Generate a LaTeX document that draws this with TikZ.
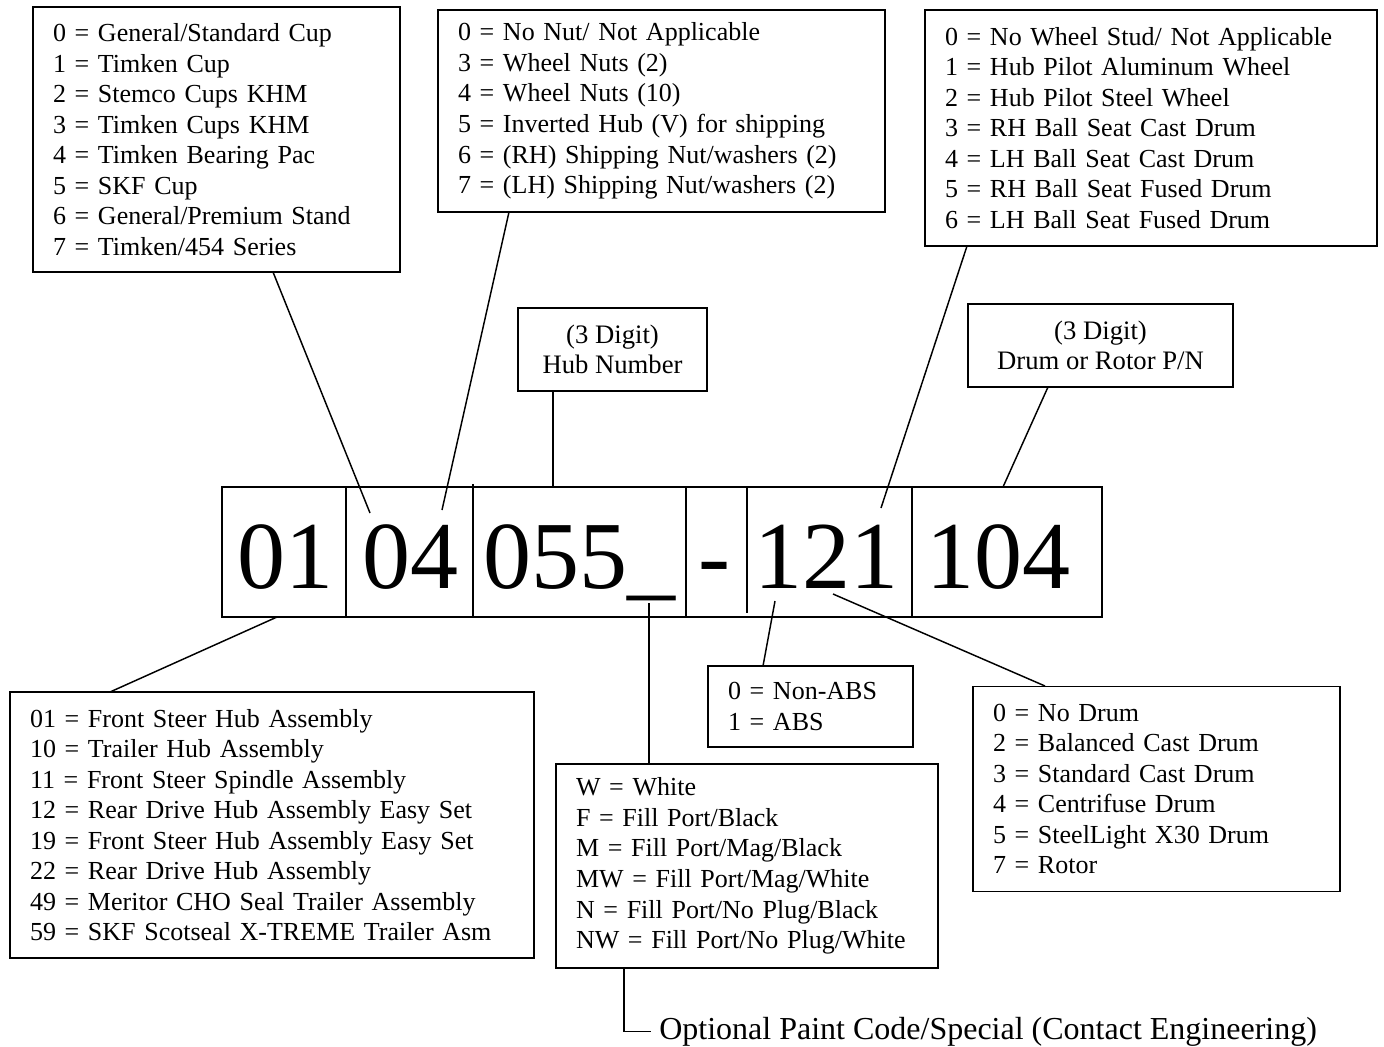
\documentclass[tikz,border=0pt]{standalone}
\usepackage{fontspec}
\setmainfont{Liberation Serif}
\usepackage{tikz}
\usetikzlibrary{positioning}

\tikzset{
  listbox/.style={draw, line width=1.3pt, align=left, inner xsep=15pt, inner ysep=0pt, font=\fontsize{19.5}{22.9}\selectfont},
  labelbox/.style={draw, line width=1.3pt, align=center, inner sep=0pt, font=\fontsize{20}{22.5}\selectfont},
  digits/.style={inner sep=0pt, font=\fontsize{72}{80}\selectfont},
  link/.style={line width=1.1pt},
  divider/.style={line width=0.8pt}
}

\begin{document}
\begin{tikzpicture}[x=0.75pt, y=-0.75pt]
  \useasboundingbox (0,0) rectangle (1384,1046);

  % option boxes above the part number
  \node[listbox, text width=245.25pt, minimum height=198.75pt] (cups) at (216.5,139.5) {0 = General/Standard Cup\\ 1 = Timken Cup\\ 2 = Stemco Cups KHM\\ 3 = Timken Cups KHM\\ 4 = Timken Bearing Pac\\ 5 = SKF Cup\\ 6 = General/Premium Stand\\ 7 = Timken/454 Series};
  \node[listbox, text width=305.25pt, minimum height=151.5pt] (nuts) at (661.5,111) {0 = No Nut/ Not Applicable\\ 3 = Wheel Nuts (2)\\ 4 = Wheel Nuts (10)\\ 5 = Inverted Hub (V) for shipping\\ 6 = (RH) Shipping Nut/washers (2)\\ 7 = (LH) Shipping Nut/washers (2)};
  \node[listbox, text width=309pt, minimum height=177pt] (studs) at (1151,128) {0 = No Wheel Stud/ Not Applicable\\ 1 = Hub Pilot Aluminum Wheel\\ 2 = Hub Pilot Steel Wheel\\ 3 = RH Ball Seat Cast Drum\\ 4 = LH Ball Seat Cast Drum\\ 5 = RH Ball Seat Fused Drum\\ 6 = LH Ball Seat Fused Drum};
  \node[labelbox, minimum width=141.75pt, minimum height=62.25pt] (hub) at (612.5,349.5) {(3 Digit)\\ Hub Number};
  \node[labelbox, minimum width=198.75pt, minimum height=62.25pt] (drumpn) at (1100.5,345.5) {(3 Digit)\\ Drum or Rotor P/N};

  % the part number
  \node[draw, line width=1.3pt, inner sep=0pt, minimum width=660pt, minimum height=97.5pt] (strip) at (662,552) {};
  \foreach \x in {346,686,912}
    \draw[divider] (\x,487) -- (\x,617);
  \draw[divider] (473,484) -- (473,617);
  \draw[divider] (747,487) -- (747,613);
  \node[digits, anchor=base] (asmcode) at (285.5,588) {01};
  \node[digits, anchor=base] (cupcode) at (410,588) {04};
  \node[digits, anchor=base] (hubcode) at (579,588) {055\_};
  \node[digits, anchor=base] (dashcode) at (714,588) {-};
  \node[digits, anchor=base] (studcode) at (826.5,588) {121};
  \node[digits, anchor=base] (drumcode) at (998,588) {104};

  % option boxes below the part number
  \node[listbox, text width=363pt, minimum height=199.5pt] (asm) at (272,825) {01 = Front Steer Hub Assembly\\ 10 = Trailer Hub Assembly\\ 11 = Front Steer Spindle Assembly\\ 12 = Rear Drive Hub Assembly Easy Set\\ 19 = Front Steer Hub Assembly Easy Set\\ 22 = Rear Drive Hub Assembly\\ 49 = Meritor CHO Seal Trailer Assembly\\ 59 = SKF Scotseal X-TREME Trailer Asm};
  \node[listbox, text width=123.75pt, minimum height=60.75pt] (abs) at (810.5,706.5) {0 = Non-ABS\\ 1 = ABS};
  \node[listbox, text width=256.5pt, minimum height=153pt] (paint) at (747,866) {W = White\\ F = Fill Port/Black\\ M = Fill Port/Mag/Black\\ MW = Fill Port/Mag/White\\ N = Fill Port/No Plug/Black\\ NW = Fill Port/No Plug/White};
  \node[listbox, text width=245.25pt, minimum height=153.75pt] (drum) at (1156.5,789) {0 = No Drum\\ 2 = Balanced Cast Drum\\ 3 = Standard Cast Drum\\ 4 = Centrifuse Drum\\ 5 = SteelLight X30 Drum\\ 7 = Rotor};
  \node[font=\fontsize{24}{28}\selectfont, inner xsep=6pt, anchor=base west] (note) at (651,1039) {Optional Paint Code/Special (Contact Engineering)};

  % leader ends
  \coordinate (cupsTail) at (273,272);   \coordinate (cupsTip) at (370,513);
  \coordinate (nutsTail) at (509,212);   \coordinate (nutsTip) at (442,510);
  \coordinate (hubTail) at (553,391);    \coordinate (hubTip) at (553,487);
  \coordinate (studsTail) at (967,246);  \coordinate (studsTip) at (881,508);
  \coordinate (drumpnTail) at (1048,387); \coordinate (drumpnTip) at (1003,487);
  \coordinate (asmTip) at (277,617);     \coordinate (asmTail) at (110,692);
  \coordinate (paintTip) at (649,603);   \coordinate (paintTail) at (649,763);
  \coordinate (absTip) at (775,601);     \coordinate (absTail) at (763,666);
  \coordinate (drumTip) at (833,594);    \coordinate (drumTail) at (1045,686);
  \coordinate (paintFoot) at (624,967);

  \draw[link] (cupsTail) -- (cupsTip);
  \draw[link] (nutsTail) -- (nutsTip);
  \draw[link] (hubTail) -- (hubTip);
  \draw[link] (studsTail) -- (studsTip);
  \draw[link] (drumpnTail) -- (drumpnTip);
  \draw[link] (asmTip) -- (asmTail);
  \draw[link] (paintTip) -- (paintTail);
  \draw[link] (absTip) -- (absTail);
  \draw[link] (drumTip) -- (drumTail);
  \draw[link] (paintFoot) |- (note.west);
\end{tikzpicture}
\end{document}
